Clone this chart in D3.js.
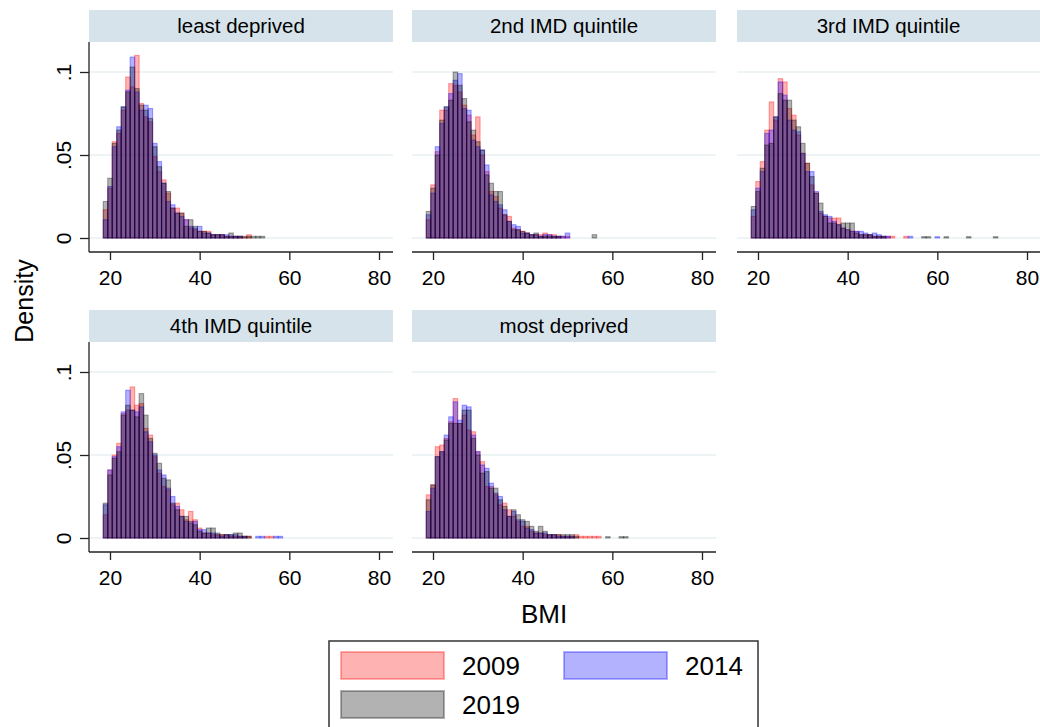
<!DOCTYPE html>
<html lang="en">
<head>
<meta charset="UTF-8">
<title>BMI density by IMD quintile</title>
<script src="https://cdn.jsdelivr.net/npm/d3@7"></script>
<style>
  body { margin: 0; background: #fff; }
  svg { display: block; font-family: "Liberation Sans", Arial, sans-serif; }
</style>
</head>
<body>
<div id="chart"></div>
<script>
// histogram bins: bin i covers [binStart + i, binStart + i + binWidth)
const binStart = 18.5, binWidth = 1;
const years = ["2009", "2014", "2019"];
const panelTitles = ["least deprived", "2nd IMD quintile", "3rd IMD quintile", "4th IMD quintile", "most deprived"];
const xTicks = [20, 40, 60, 80];
const yTicks = [0, 0.05, 0.1];
const yTickLabels = ["0", ".05", ".1"];

// densities
const least2009 = [.017,.030,.058,.063,.077,.097,.091,.110,.081,.073,.070,.049,.040,.035,.027,.018,.018,.015,.011,.006,.005,.004,.004,.004,.002,.002,.002,.001,.001,.001,.001,.0005,.002];
const least2014 = [.011,.031,.055,.067,.079,.089,.109,.088,.077,.080,.078,.057,.046,.033,.022,.020,.015,.013,.011,.007,.006,.007,.003,.003,.002,.002,.002,.002,.001,.001,.001];
const least2019 = [.022,.036,.057,.065,.079,.088,.103,.090,.080,.077,.072,.055,.043,.033,.028,.018,.015,.015,.007,.011,.007,.004,.004,.003,.002,.002,.002,.001,.003,.001,.001,.001,.001,.001,.001,.001];

const second2009 = [.011,.032,.052,.077,.077,.093,.092,.088,.080,.074,.062,.073,.050,.040,.028,.025,.018,.014,.013,.006,.005,.004,.003,.002,.002,.002,.003,.002,.002,.001,.001,.001];
const second2014 = [.014,.027,.055,.069,.079,.087,.095,.099,.078,.077,.059,.055,.053,.044,.026,.022,.020,.017,.010,.008,.007,.003,.003,.002,.002,.001,.002,.002,.001,.001,.001,.003];
const second2019 = [.016,.030,.050,.071,.079,.083,.100,.092,.084,.070,.065,.058,.053,.038,.033,.028,.028,.014,.010,.005,.005,.004,.003,.002,.003,.001,.001,.001,.001,.001,0,0,0,0,0,0,0,.002];

const third2009 = [.013,.034,.046,.065,.082,.071,.096,.094,.078,.074,.062,.051,.045,.032,.027,.015,.013,.012,.012,.012,.006,.005,.004,.004,.002,.002,.002,.001,.001,.001,.001,.001,0,0,.001];
const third2014 = [.017,.030,.040,.063,.065,.073,.094,.086,.071,.065,.064,.051,.040,.040,.028,.016,.014,.013,.010,.008,.006,.005,.004,.004,.004,.003,.002,.003,.002,.001,.001,0,0,0,0,.001,0,0,0,0,0,.0008];
const third2019 = [.019,.028,.042,.056,.057,.073,.087,.083,.083,.071,.067,.057,.045,.037,.027,.021,.013,.009,.009,.008,.009,.009,.009,.003,.002,.002,.002,.001,.001,.001,0,0,0,0,0,0,0,0,.0008,.0008,0,0,0,.0008,0,0,0,0,.0008,0,0,0,0,0,.0008];

const fourth2009 = [.014,.041,.050,.057,.075,.077,.091,.080,.081,.066,.062,.049,.039,.031,.029,.020,.021,.017,.011,.016,.011,.006,.003,.003,.002,.002,.002,.002,.001,.001,.001,.001,.001,0,0,0,.001,.001];
const fourth2014 = [.020,.041,.049,.055,.076,.089,.077,.076,.079,.064,.058,.050,.041,.038,.030,.025,.019,.013,.010,.009,.010,.005,.005,.003,.003,.002,.001,.002,.002,.002,.001,.001,0,0,.001,.001,0,0,.001,.001];
const fourth2019 = [.021,.038,.048,.052,.074,.080,.077,.073,.087,.074,.060,.051,.045,.036,.035,.021,.017,.013,.013,.010,.008,.004,.003,.006,.006,.003,.002,.002,.002,.003,.003,.001,.001];

const most2009 = [.026,.032,.055,.056,.060,.070,.084,.069,.074,.065,.064,.052,.046,.031,.031,.026,.020,.021,.017,.013,.010,.007,.007,.004,.003,.003,.002,.002,.002,.002,.001,.001,.001,.002,.001,.001,.001,.001,.001];
const most2014 = [.016,.030,.049,.052,.062,.073,.082,.071,.080,.079,.062,.052,.044,.042,.033,.027,.025,.017,.013,.016,.011,.010,.006,.005,.003,.003,.003,.002,.002,.001,.001,.001,.001];
const most2019 = [.023,.032,.049,.052,.059,.069,.069,.069,.077,.077,.060,.050,.039,.040,.030,.030,.023,.019,.013,.017,.014,.011,.010,.007,.004,.007,.004,.002,.002,.002,.002,.002,.002,.001,0,0,0,0,0,0,.0008,0,0,.0008,.0008];

const panelData = [
    [least2009, least2014, least2019],
    [second2009, second2014, second2019],
    [third2009, third2014, third2019],
    [fourth2009, fourth2014, fourth2019],
    [most2009, most2014, most2019]
];

const width = 1040, height = 727;
const colLeft = [89, 412, 737], colWidth = 304;
const rowTop = [10, 310], stripH = 32, plotH = 210;
const seriesColor = ["#ff0000", "#0000ff", "#000000"];
const stripColor = "#d6e3ea", gridColor = "#e8f0f2", axisColor = "#222";

const svg = d3.select("#chart")
    .append("svg")
    .attr("width", width)
    .attr("height", height);

panelTitles.forEach((title, p) => {
    const col = p % 3, row = Math.floor(p / 3);
    const left = colLeft[col], top = rowTop[row];
    const right = Math.min(left + colWidth, width);
    const bottom = top + stripH + plotH;

    const x = d3.scaleLinear().domain([20, 80]).range([left + 21, left + 290]);
    const y = d3.scaleLinear().domain([0, 0.1]).range([bottom - 14, bottom - 180]);

    const g = svg.append("g");

    // header strip
    g.append("rect")
        .attr("x", left).attr("y", top)
        .attr("width", right - left).attr("height", stripH)
        .attr("fill", stripColor);
    g.append("text")
        .attr("x", (left + right) / 2)
        .attr("y", top + stripH / 2 + 7)
        .attr("text-anchor", "middle")
        .attr("font-size", 20.5)
        .text(title);

    // gridlines
    g.selectAll(".grid")
        .data(yTicks)
        .join("line")
        .attr("x1", left).attr("x2", right)
        .attr("y1", d => y(d)).attr("y2", d => y(d))
        .attr("stroke", gridColor)
        .attr("stroke-width", 1.5);

    // overlaid histograms
    panelData[p].forEach((vals, s) => {
        const bins = vals.map((v, i) => ({ x0: binStart + i * binWidth, v })).filter(d => d.v > 0);
        g.append("g")
            .selectAll("rect")
            .data(bins)
            .join("rect")
            .attr("x", d => x(d.x0))
            .attr("width", d => x(d.x0 + binWidth) - x(d.x0))
            .attr("y", d => y(d.v))
            .attr("height", d => y(0) - y(d.v))
            .attr("fill", seriesColor[s])
            .attr("fill-opacity", 0.3)
            .attr("stroke", seriesColor[s])
            .attr("stroke-opacity", 0.35)
            .attr("stroke-width", 1.1);
    });

    // x axis
    const xAxis = g.append("g")
        .attr("transform", `translate(0,${bottom})`)
        .call(d3.axisBottom(x).tickValues(xTicks).tickSize(8).tickPadding(10));
    xAxis.select(".domain").remove();
    xAxis.append("line")
        .attr("x1", left).attr("x2", right)
        .attr("stroke", axisColor).attr("stroke-width", 1.3);
    xAxis.selectAll(".tick line").attr("stroke", axisColor).attr("stroke-width", 1.3);
    xAxis.selectAll(".tick text")
        .attr("font-size", 21)
        .attr("font-family", "Liberation Sans, Arial, sans-serif")
        .attr("fill", "#000");

    // y axis, first column only
    if (col === 0) {
        const yAxis = g.append("g")
            .attr("transform", `translate(${left},0)`)
            .call(d3.axisLeft(y).tickValues(yTicks).tickFormat((d, i) => yTickLabels[i]).tickSize(9));
        yAxis.select(".domain").remove();
        yAxis.append("line")
            .attr("y1", top + stripH).attr("y2", bottom)
            .attr("stroke", axisColor).attr("stroke-width", 1.3);
        yAxis.selectAll(".tick line").attr("stroke", axisColor).attr("stroke-width", 1.3);
        yAxis.selectAll(".tick text")
            .attr("x", 0).attr("dy", 0)
            .attr("text-anchor", "middle")
            .attr("transform", "translate(-18,0) rotate(-90)")
            .attr("font-size", 21)
            .attr("font-family", "Liberation Sans, Arial, sans-serif")
            .attr("fill", "#000");
    }
});

// axis titles
svg.append("text")
    .attr("transform", "translate(33,301) rotate(-90)")
    .attr("text-anchor", "middle")
    .attr("font-size", 25)
    .text("Density");

svg.append("text")
    .attr("x", 544)
    .attr("y", 623)
    .attr("text-anchor", "middle")
    .attr("font-size", 26)
    .text("BMI");

// legend
svg.append("rect")
    .attr("x", 329).attr("y", 641)
    .attr("width", 429).attr("height", 100)
    .attr("fill", "#fff")
    .attr("stroke", "#333")
    .attr("stroke-width", 1.5);

const legend = svg.selectAll(".legend")
    .data(years)
    .join("g")
    .attr("transform", (d, i) => `translate(${341 + (i % 2) * 223},${652 + Math.floor(i / 2) * 39})`);

legend.append("rect")
    .attr("width", 103)
    .attr("height", 27)
    .attr("fill", (d, i) => seriesColor[i])
    .attr("fill-opacity", 0.3)
    .attr("stroke", (d, i) => seriesColor[i])
    .attr("stroke-opacity", 0.3)
    .attr("stroke-width", 2);

legend.append("text")
    .attr("x", 121)
    .attr("y", 23)
    .attr("font-size", 26)
    .text(d => d);
</script>
</body>
</html>
